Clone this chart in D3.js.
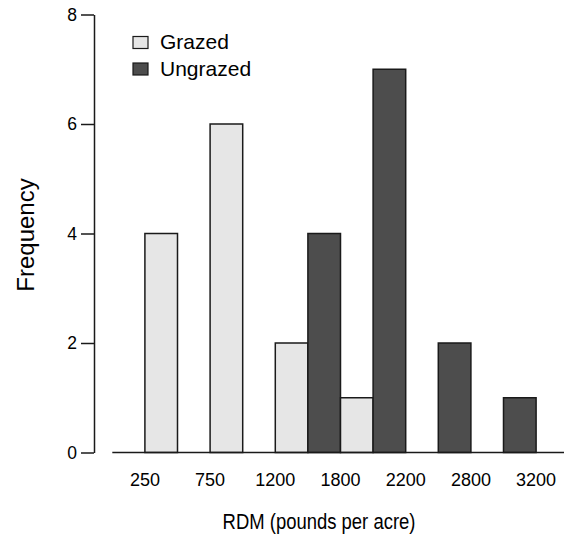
<!DOCTYPE html>
<html>
<head>
<meta charset="utf-8">
<script src="https://cdn.jsdelivr.net/npm/d3@7"></script>
<style>
  body { margin: 0; background: #fff; }
  text { font-family: "Liberation Sans", Arial, sans-serif; fill: #000; }
</style>
</head>
<body>
<div id="myChart"></div>
<script>
let categories = ["250", "750", "1200", "1800", "2200", "2800", "3200"];
let series = ["Ungrazed", "Grazed"];
let legendOrder = ["Grazed", "Ungrazed"];
let grazed = [4, 6, 2, 1, 0, 0, 0];
let ungrazed = [0, 0, 0, 4, 7, 2, 1];
let yTicks = [0, 2, 4, 6, 8];

let colors = { Grazed: "#e6e6e6", Ungrazed: "#4d4d4d" };

let width = 564, height = 534;

let svg = d3.select("#myChart").append("svg")
  .attr("width", width)
  .attr("height", height);

let rows = categories.map((c, i) => ({ cat: c, Grazed: grazed[i], Ungrazed: ungrazed[i] }));

let x = d3.scaleBand()
  .domain(categories)
  .range([112.3, 568.7])
  .padding(0);

let xs = d3.scaleBand()
  .domain(series)
  .range([0, x.bandwidth()])
  .padding(0);

let y = d3.scaleLinear()
  .domain([0, 8])
  .range([452.5, 14.5]);

// bars
svg.append("g").selectAll("g")
  .data(rows)
  .enter()
  .append("g")
  .attr("transform", d => "translate(" + x(d.cat) + ",0)")
  .selectAll("rect")
  .data(d => series.map(s => ({ key: s, value: d[s] })).filter(b => b.value > 0))
  .enter()
  .append("rect")
  .attr("x", d => xs(d.key))
  .attr("width", xs.bandwidth())
  .attr("y", d => y(d.value))
  .attr("height", d => y(0) - y(d.value))
  .attr("fill", d => colors[d.key])
  .attr("stroke", "#1a1a1a")
  .attr("stroke-width", 1.5);

// baseline
svg.append("line")
  .attr("x1", x.range()[0])
  .attr("x2", x.range()[1])
  .attr("y1", y(0))
  .attr("y2", y(0))
  .attr("stroke", "#1a1a1a")
  .attr("stroke-width", 1.5);

// y axis
let yAxis = svg.append("g")
  .attr("transform", "translate(94,0)")
  .call(d3.axisLeft(y).tickValues(yTicks).tickSize(13).tickPadding(4).tickSizeOuter(0));
yAxis.select(".domain").attr("stroke", "#1a1a1a").attr("stroke-width", 1.5);
yAxis.selectAll(".tick line").attr("stroke", "#1a1a1a").attr("stroke-width", 1.5);
yAxis.selectAll(".tick text")
  .style("font-family", "Liberation Sans, Arial, sans-serif")
  .style("font-size", "17.5px")
  .attr("fill", "#000");

// x tick labels at group centres
let xAxis = svg.append("g")
  .attr("transform", "translate(0," + y(0) + ")")
  .call(d3.axisBottom(x).tickSize(0).tickPadding(21));
xAxis.select(".domain").remove();
xAxis.selectAll(".tick text")
  .style("font-family", "Liberation Sans, Arial, sans-serif")
  .style("font-size", "18px")
  .attr("fill", "#000");

// axis titles
svg.append("text")
  .attr("transform", "translate(319,528.5) scale(0.84,1)")
  .attr("text-anchor", "middle")
  .style("font-size", "22px")
  .text("RDM (pounds per acre)");

svg.append("text")
  .attr("transform", "translate(34,235) rotate(-90)")
  .attr("text-anchor", "middle")
  .style("font-size", "24px")
  .text("Frequency");

// legend
let legend = svg.append("g").selectAll("g")
  .data(legendOrder)
  .enter()
  .append("g")
  .attr("transform", (d, i) => "translate(133," + (36.5 + i * 26.5) + ")");
legend.append("rect")
  .attr("width", 15)
  .attr("height", 12)
  .attr("fill", d => colors[d])
  .attr("stroke", "#1a1a1a")
  .attr("stroke-width", 1.2);
legend.append("text")
  .attr("x", 27)
  .attr("y", 12.5)
  .style("font-size", "21px")
  .text(d => d);
</script>
</body>
</html>
